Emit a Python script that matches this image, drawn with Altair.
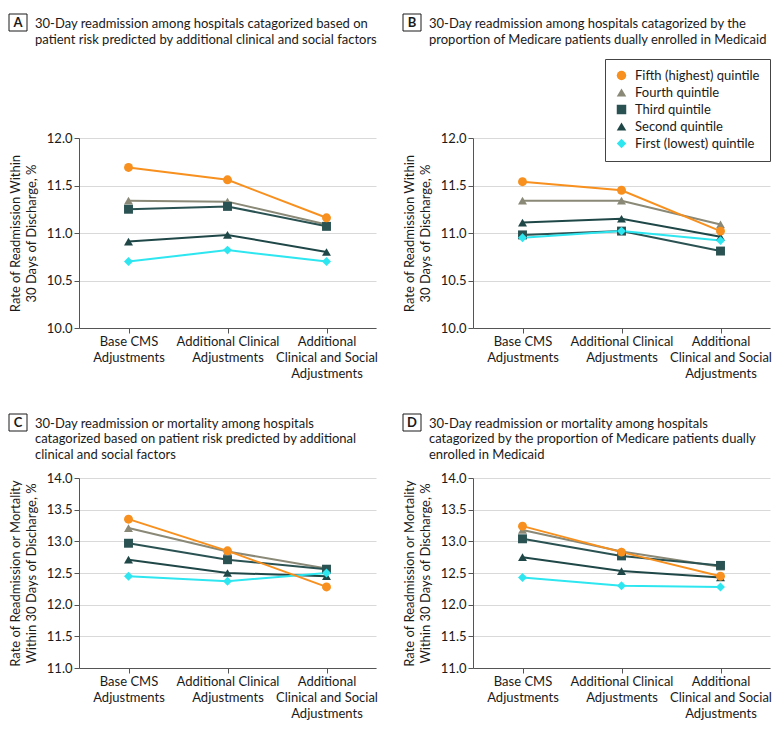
import altair as alt
import pandas as pd

categories = ["Base CMS|Adjustments", "Additional Clinical|Adjustments",
              "Additional|Clinical and Social|Adjustments"]
quintiles = ["Fifth (highest) quintile", "Fourth quintile", "Third quintile",
             "Second quintile", "First (lowest) quintile"]
colors = ["#F7901E", "#8A8876", "#2B5252", "#1F4747", "#2EE6F0"]
shapes = ["circle", "triangle-up", "square", "triangle-up", "diamond"]
draw_order = [1, 2, 3, 4, 0]

# Panel A
a_fifth = [11.69, 11.56, 11.16]
a_fourth = [11.34, 11.33, 11.09]
a_third = [11.25, 11.28, 11.07]
a_second = [10.91, 10.98, 10.80]
a_first = [10.70, 10.82, 10.70]
# Panel B
b_fifth = [11.54, 11.45, 11.02]
b_fourth = [11.34, 11.34, 11.09]
b_third = [10.98, 11.02, 10.81]
b_second = [11.11, 11.15, 10.96]
b_first = [10.95, 11.02, 10.92]
# Panel C
c_fifth = [13.35, 12.85, 12.28]
c_fourth = [13.21, 12.84, 12.57]
c_third = [12.97, 12.71, 12.56]
c_second = [12.71, 12.50, 12.45]
c_first = [12.45, 12.37, 12.50]
# Panel D
d_fifth = [13.24, 12.83, 12.45]
d_fourth = [13.18, 12.84, 12.60]
d_third = [13.04, 12.77, 12.62]
d_second = [12.75, 12.53, 12.43]
d_first = [12.43, 12.30, 12.28]

title_a = ["30-Day readmission among hospitals catagorized based on",
           "patient risk predicted by additional clinical and social factors"]
title_b = ["30-Day readmission among hospitals catagorized by the",
           "proportion of Medicare patients dually enrolled in Medicaid"]
title_c = ["30-Day readmission or mortality among hospitals",
           "catagorized based on patient risk predicted by additional",
           "clinical and social factors"]
title_d = ["30-Day readmission or mortality among hospitals",
           "catagorized by the proportion of Medicare patients dually",
           "enrolled in Medicaid"]
ytitle_top = ["Rate of Readmission Within", "30 Days of Discharge, %"]
ytitle_bot = ["Rate of Readmission or Mortality", "Within 30 Days of Discharge, %"]
yticks_top = [10.0, 10.5, 11.0, 11.5, 12.0]
yticks_bot = [11.0, 11.5, 12.0, 12.5, 13.0, 13.5, 14.0]

W, H = 297, 190
TXT = "#1a1a1a"
FONT = "Lato"


def panel(letter, title_lines, ytitle, series, ydomain, yticks, title_offset, box_y, legend=None):
    rows = []
    for qi in draw_order:
        for ci, cat in enumerate(categories):
            rows.append({"cat": cat, "q": quintiles[qi], "v": series[qi][ci]})
    df = pd.DataFrame(rows)
    x = alt.X("cat:N", sort=categories,
              scale=alt.Scale(type="point", padding=0.5),
              axis=alt.Axis(title=None, labelExpr="split(datum.label, '|')", labelAngle=0,
                            grid=False, tickSize=5, labelPadding=2, labelLineHeight=16,
                            labelBaseline="top"))
    y = alt.Y("v:Q", scale=alt.Scale(domain=ydomain, nice=False, zero=False),
              axis=alt.Axis(values=yticks, format=".1f", title=ytitle, grid=True,
                            tickSize=5, labelPadding=2, titlePadding=8, titleLineHeight=16))
    color = alt.Color("q:N", scale=alt.Scale(domain=quintiles, range=colors), legend=legend)
    shape = alt.Shape("q:N", scale=alt.Scale(domain=quintiles, range=shapes), legend=legend)
    base = alt.Chart(df)
    lines = base.mark_line(strokeWidth=2).encode(x=x, y=y, color=color, detail="q:N")
    pts = base.mark_point(filled=True, opacity=1, size=80).encode(x=x, y=y, color=color, shape=shape)
    deco = alt.Chart(pd.DataFrame({"letter": [letter]}))
    box = deco.mark_rect(fill="white", stroke=TXT, strokeWidth=1).encode(
        x=alt.value(-70), x2=alt.value(-52), y=alt.value(box_y), y2=alt.value(box_y + 17))
    lt = deco.mark_text(font=FONT, fontSize=13, fontWeight="bold", color=TXT).encode(
        x=alt.value(-61), y=alt.value(box_y + 9), text="letter:N")
    return alt.layer(lines, pts, box, lt).properties(
        width=W, height=H,
        title=alt.TitleParams(text=title_lines, anchor="start", frame="group", dx=-44,
                              offset=title_offset, lineHeight=15.5, fontSize=13))


leg = alt.Legend(title=None, orient="none", legendX=132, legendY=-79, fillColor="white",
                 strokeColor="#444", padding=10, labelFontSize=13, labelFont=FONT,
                 labelColor=TXT, symbolSize=90, rowPadding=3, labelOffset=7,
                 symbolStrokeWidth=0)

pa = panel("A", title_a, ytitle_top, [a_fifth, a_fourth, a_third, a_second, a_first],
           [10, 12], yticks_top, -33, -124, None)
pb = panel("B", title_b, ytitle_top, [b_fifth, b_fourth, b_third, b_second, b_first],
           [10, 12], yticks_top, -33, -124, leg)
pc = panel("C", title_c, ytitle_bot, [c_fifth, c_fourth, c_third, c_second, c_first],
           [11, 14], yticks_bot, -48, -64, None)
pd_ = panel("D", title_d, ytitle_bot, [d_fifth, d_fourth, d_third, d_second, d_first],
            [11, 14], yticks_bot, -48, -64, None)

row1 = alt.hconcat(pa, pb, spacing=24).resolve_scale(color="independent", shape="independent")
row2 = alt.hconcat(pc, pd_, spacing=24).resolve_scale(color="independent", shape="independent")

chart = alt.vconcat(row1, row2, spacing=33).resolve_scale(
    color="independent", shape="independent").properties(
    padding={"left": 0, "top": 5, "right": 0, "bottom": 0}
).configure(font=FONT).configure_view(strokeWidth=0).configure_axis(
    labelFont=FONT, titleFont=FONT, labelFontSize=13, titleFontSize=13,
    labelColor=TXT, titleColor=TXT, titleFontWeight="normal",
    domainColor="#555", tickColor="#555", gridColor="#d9d9d9"
).configure_title(font=FONT, fontSize=13, fontWeight="normal", color=TXT, lineHeight=15.5)

chart.save("out.html", embed_options={"renderer": "svg", "actions": False})
